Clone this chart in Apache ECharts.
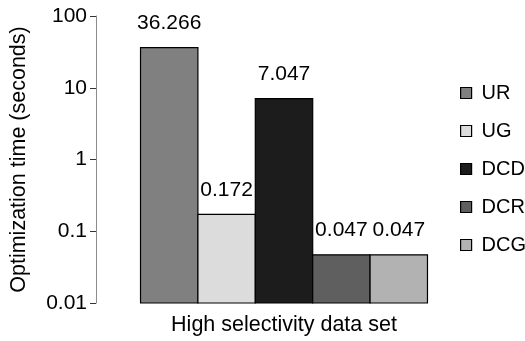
<!DOCTYPE html>
<html>
<head>
<meta charset="utf-8">
<script src="https://cdn.jsdelivr.net/npm/echarts@6/dist/echarts.min.js"></script>
<style>
html,body{margin:0;padding:0;background:#fff;}
#c{width:525px;height:341px;}
</style>
</head>
<body>
<div id="c"></div>
<script>
var categories = ['High selectivity data set'];
var seriesNames = ['UR', 'UG', 'DCD', 'DCR', 'DCG'];
var valUR = [36.266];
var valUG = [0.172];
var valDCD = [7.047];
var valDCR = [0.047];
var valDCG = [0.047];
var seriesValues = [valUR, valUG, valDCD, valDCR, valDCG];
var seriesColors = ['#808080', '#dcdcdc', '#1c1c1c', '#5f5f5f', '#b2b2b2'];
var yTicks = [0.01, 0.1, 1, 10, 100];

var FONT = '"Liberation Sans", Arial, sans-serif';
var CAT_GAP = 0.2368;
var chart = echarts.init(document.getElementById('c'), null, {renderer: 'canvas'});

function makeRender(si) {
  return function (params, api) {
    var ci = api.value(0);
    var v = api.value(1);
    var top = api.coord([ci, v]);
    var base = api.coord([ci, yTicks[0]]);
    var band = params.coordSys.width / categories.length;
    var groupW = band * (1 - CAT_GAP);
    var barW = groupW / seriesNames.length;
    var left = top[0] - groupW / 2 + si * barW;
    return {
      type: 'group',
      children: [
        {
          type: 'rect',
          shape: {x: left, y: top[1], width: barW, height: base[1] - top[1]},
          style: {fill: seriesColors[si], stroke: '#000', lineWidth: 1.2}
        },
        {
          type: 'text',
          x: left + barW / 2,
          y: top[1] - 14,
          style: {
            text: String(v), fill: '#000', font: '21px ' + FONT,
            align: 'center', verticalAlign: 'bottom'
          }
        }
      ]
    };
  };
}

var series = seriesNames.map(function (n, i) {
  return {
    name: n,
    type: 'custom',
    renderItem: makeRender(i),
    encode: {x: 0, y: 1},
    itemStyle: {color: seriesColors[i], borderColor: '#000', borderWidth: 1},
    data: seriesValues[i].map(function (v, k) { return [k, v]; })
  };
});

chart.setOption({
  animation: false,
  backgroundColor: '#fff',
  grid: {left: 92, right: 53, top: 16, bottom: 38, containLabel: false},
  legend: {
    orient: 'vertical', left: 455, top: 78, itemGap: 18,
    itemWidth: 11, itemHeight: 11, icon: 'rect',
    itemStyle: {borderColor: '#000', borderWidth: 1.2},
    textStyle: {color: '#000', fontFamily: FONT, fontSize: 20, padding: [0, 0, 0, 5]},
    data: seriesNames.map(function (n, i) {
      return {name: n, itemStyle: {color: seriesColors[i], borderColor: '#000', borderWidth: 1.2}};
    })
  },
  xAxis: {
    type: 'category', data: categories,
    axisLine: {show: false}, axisTick: {show: false},
    axisLabel: {color: '#000', fontFamily: FONT, fontSize: 21.5, margin: 11}
  },
  yAxis: {
    type: 'log', logBase: 10, min: yTicks[0], max: yTicks[yTicks.length - 1],
    name: 'Optimization time (seconds)', nameLocation: 'middle', nameGap: 66,
    nameTextStyle: {color: '#000', fontFamily: FONT, fontSize: 21.5},
    axisLine: {show: true, lineStyle: {color: '#8c8c8c', width: 1}},
    axisTick: {show: true, inside: false, length: 6, lineStyle: {color: '#333'}},
    splitLine: {show: false},
    axisLabel: {color: '#000', fontFamily: FONT, fontSize: 21, margin: 9,
      formatter: function (v) { return String(+v.toPrecision(6)); }}
  },
  series: series
});
</script>
</body>
</html>
